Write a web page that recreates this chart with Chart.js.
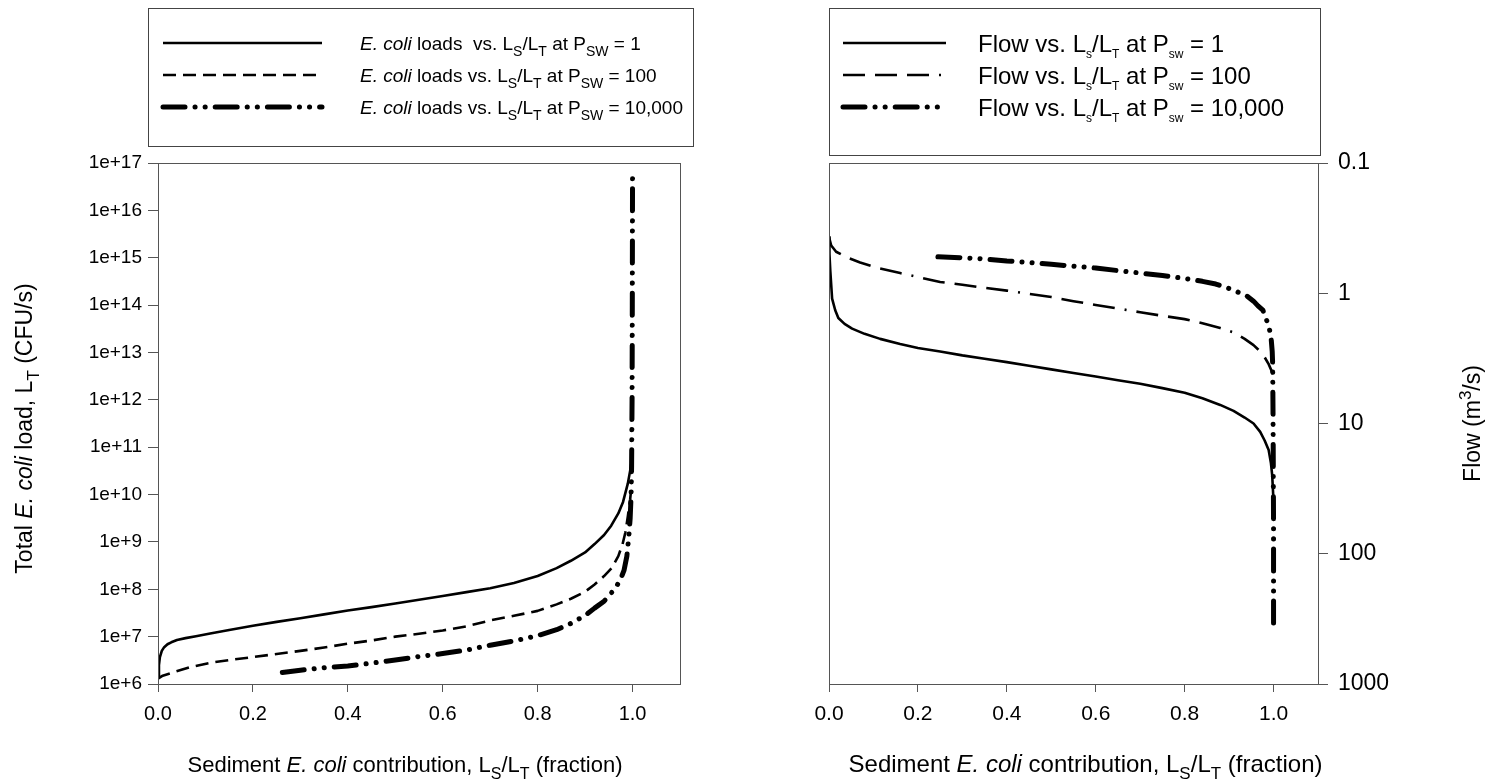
<!DOCTYPE html>
<html>
<head>
<meta charset="utf-8">
<script src="https://cdn.jsdelivr.net/npm/chart.js@4/dist/chart.umd.min.js"></script>
<style>
  html, body { margin: 0; padding: 0; background: #fff; }
  #wrap { position: relative; width: 1488px; height: 783px; }
  .pane { position: absolute; top: 0; width: 744px; height: 783px; }
</style>
</head>
<body>
<div id="wrap">
  <div class="pane" style="left:0"><canvas id="loadChart" width="744" height="783"></canvas></div>
  <div class="pane" style="left:744px"><canvas id="flowChart" width="744" height="783"></canvas></div>
</div>
<script>
// sediment fraction Ls/Lt vs total load (CFU/s), one curve per Psw
let loadFrac1 = [0, 0.002, 0.004, 0.008, 0.013, 0.02, 0.028, 0.04, 0.058, 0.08, 0.11, 0.15, 0.2, 0.25, 0.3, 0.35, 0.4, 0.45, 0.5, 0.55, 0.6, 0.65, 0.7, 0.75, 0.8, 0.84, 0.87, 0.9, 0.92, 0.94, 0.955, 0.97, 0.98, 0.99, 0.995, 0.998];
let loadVal1 = [1.4e6, 2.5e6, 3.7e6, 5e6, 6e6, 6.9e6, 7.6e6, 8.5e6, 9.3e6, 1.02e7, 1.17e7, 1.38e7, 1.7e7, 2.05e7, 2.45e7, 2.95e7, 3.55e7, 4.2e7, 5e7, 6e7, 7.2e7, 8.7e7, 1.05e8, 1.35e8, 1.9e8, 2.8e8, 4e8, 6e8, 9e8, 1.4e9, 2.2e9, 4e9, 7e9, 1.7e10, 3.2e10, 5e10];

let loadFrac100 = [0, 0.01, 0.035, 0.07, 0.11, 0.15, 0.2, 0.25, 0.3, 0.35, 0.4, 0.45, 0.5, 0.55, 0.6, 0.65, 0.7, 0.75, 0.8, 0.84, 0.87, 0.9, 0.92, 0.94, 0.956, 0.97, 0.979, 0.985, 0.99, 0.995, 0.998];
let loadVal100 = [1.3e6, 1.5e6, 1.8e6, 2.3e6, 2.8e6, 3.2e6, 3.7e6, 4.3e6, 5e6, 5.9e6, 7.1e6, 8.3e6, 1e7, 1.15e7, 1.35e7, 1.65e7, 2.2e7, 2.75e7, 3.5e7, 4.8e7, 6.3e7, 8.9e7, 1.26e8, 1.9e8, 2.8e8, 5e8, 9e8, 1.6e9, 3.4e9, 8e9, 1.6e10];

let loadFrac10k = [0.262, 0.3, 0.337, 0.4, 0.45, 0.5, 0.55, 0.6, 0.65, 0.7, 0.75, 0.8, 0.84, 0.87, 0.9, 0.92, 0.94, 0.955, 0.965, 0.975, 0.982, 0.988, 0.992, 0.995, 0.997, 0.998, 0.999, 0.9995, 1.0];
let loadVal10k = [1.75e6, 1.95e6, 2.15e6, 2.4e6, 2.75e6, 3.2e6, 3.8e6, 4.4e6, 5.2e6, 6.6e6, 8.1e6, 1.05e7, 1.4e7, 1.9e7, 2.8e7, 4e7, 5.6e7, 8.3e7, 1.1e8, 1.65e8, 2.5e8, 5e8, 1.25e9, 3.2e9, 1e10, 4e10, 1e12, 1e14, 7e16];

// sediment fraction vs flow (m3/s)
let flowFrac1 = [0, 0.001, 0.003, 0.007, 0.014, 0.021, 0.035, 0.052, 0.08, 0.115, 0.16, 0.2, 0.25, 0.3, 0.35, 0.4, 0.45, 0.5, 0.55, 0.6, 0.65, 0.7, 0.75, 0.8, 0.84, 0.88, 0.91, 0.935, 0.955, 0.97, 0.98, 0.989, 0.994, 0.997, 1.0];
let flowVal1 = [0.37, 0.5, 0.68, 1.1, 1.35, 1.55, 1.72, 1.87, 2.05, 2.24, 2.45, 2.63, 2.8, 3.0, 3.18, 3.38, 3.6, 3.84, 4.1, 4.36, 4.65, 4.95, 5.35, 5.8, 6.4, 7.2, 8.0, 9.0, 10, 11.6, 13.5, 16, 20, 25, 40];

let flowFrac100 = [0, 0.005, 0.016, 0.04, 0.07, 0.11, 0.16, 0.2, 0.25, 0.3, 0.34, 0.4, 0.45, 0.5, 0.55, 0.6, 0.65, 0.7, 0.75, 0.8, 0.84, 0.88, 0.91, 0.935, 0.955, 0.97, 0.98, 0.989, 0.995, 0.998];
let flowVal100 = [0.37, 0.43, 0.48, 0.53, 0.58, 0.64, 0.70, 0.75, 0.82, 0.86, 0.90, 0.955, 1.01, 1.07, 1.15, 1.23, 1.31, 1.40, 1.49, 1.58, 1.7, 1.85, 2.0, 2.24, 2.5, 2.8, 3.1, 3.5, 3.9, 4.2];

let flowFrac10k = [0.245, 0.3, 0.35, 0.4, 0.45, 0.5, 0.55, 0.6, 0.65, 0.7, 0.75, 0.8, 0.84, 0.87, 0.9, 0.92, 0.94, 0.955, 0.965, 0.976, 0.985, 0.99, 0.994, 0.997, 0.998, 0.999, 1.0, 1.0];
let flowVal10k = [0.525, 0.535, 0.545, 0.565, 0.58, 0.60, 0.62, 0.64, 0.67, 0.70, 0.73, 0.77, 0.81, 0.85, 0.92, 0.98, 1.05, 1.15, 1.25, 1.35, 1.63, 1.85, 2.1, 2.8, 3.5, 10, 60, 400];

let pswLabels = ["1", "100", "10,000"];
let fracTicks = [0, 0.2, 0.4, 0.6, 0.8, 1.0];
let loadTicks = [1e6, 1e7, 1e8, 1e9, 1e10, 1e11, 1e12, 1e13, 1e14, 1e15, 1e16, 1e17];
let flowTicks = [0.1, 1, 10, 100, 1000];

const FAMILY = '"Liberation Sans", Arial, sans-serif';
const AXIS = "#555";

// line styles: solid, dashed, dash-dot-dot
const dashDotDot = [22, 10, 0.1, 10, 0.1, 10];
let loadStyles = [
  { dash: [], width: 2.6, cap: "butt" },
  { dash: [13, 7], width: 2.6, cap: "butt" },
  { dash: dashDotDot, width: 5, cap: "round" }
];
let flowStyles = [
  { dash: [], width: 2.6, cap: "butt" },
  { dash: [22, 10, 22, 10, 22, 10, 2, 10], width: 2.6, cap: "butt" },
  { dash: dashDotDot, width: 5, cap: "round" }
];

function makeSet(xs, ys, st) {
  return {
    data: xs.map((x, i) => ({ x: x, y: ys[i] })),
    showLine: true,
    pointRadius: 0,
    borderColor: "#000",
    borderWidth: st.width,
    borderDash: st.dash,
    borderCapStyle: st.cap,
    borderJoinStyle: "round",
    tension: 0
  };
}

// mixed text runs: [text, kind] with kind n / i / sub / tiny / sup
function runFont(kind, size) {
  if (kind === "i") return { font: "italic " + size + "px " + FAMILY, dy: 0 };
  if (kind === "sub") return { font: Math.round(size * 0.72) + "px " + FAMILY, dy: size * 0.3 };
  if (kind === "tiny") return { font: Math.round(size * 0.5) + "px " + FAMILY, dy: size * 0.25 };
  if (kind === "sup") return { font: Math.round(size * 0.72) + "px " + FAMILY, dy: -size * 0.42 };
  return { font: size + "px " + FAMILY, dy: 0 };
}
function richWidth(ctx, runs, size) {
  let w = 0;
  runs.forEach(r => { ctx.font = runFont(r[1], size).font; w += ctx.measureText(r[0]).width; });
  return w;
}
function drawRich(ctx, runs, x, y, size, align) {
  let start = x;
  if (align === "center") start = x - richWidth(ctx, runs, size) / 2;
  ctx.fillStyle = "#000";
  ctx.textAlign = "left";
  ctx.textBaseline = "alphabetic";
  runs.forEach(r => {
    let f = runFont(r[1], size);
    ctx.font = f.font;
    ctx.fillText(r[0], start, y + f.dy);
    start += ctx.measureText(r[0]).width;
  });
}

function sampleLine(ctx, x0, x1, y, st) {
  ctx.save();
  ctx.strokeStyle = "#000";
  ctx.lineWidth = st.width;
  ctx.lineCap = st.cap;
  ctx.setLineDash(st.dash);
  ctx.beginPath();
  ctx.moveTo(x0, y);
  ctx.lineTo(x1, y);
  ctx.stroke();
  ctx.restore();
}

// frame, legend box and axis titles
const decor = {
  id: "decor",
  afterDraw(chart, args, o) {
    const ctx = chart.ctx;
    const a = chart.chartArea;
    ctx.save();
    ctx.strokeStyle = AXIS;
    ctx.lineWidth = 1;
    ctx.strokeRect(Math.round(a.left) + 0.5, Math.round(a.top) + 0.5, Math.round(a.right - a.left), Math.round(a.bottom - a.top));

    const lg = o.legend;
    ctx.strokeStyle = "#444";
    ctx.strokeRect(lg.box[0] + 0.5, lg.box[1] + 0.5, lg.box[2], lg.box[3]);
    lg.rows.forEach((ry, i) => {
      sampleLine(ctx, lg.sample[0], lg.sample[1], ry, o.styles[i]);
      drawRich(ctx, o.labels[i], lg.textX, ry + lg.size * 0.36, lg.size);
    });

    const cx = (a.left + a.right) / 2 + o.xTitleShift;
    drawRich(ctx, o.xTitle, cx, 772, o.xTitleSize, "center");

    ctx.save();
    ctx.translate(o.yTitleX, (a.top + a.bottom) / 2 + o.yTitleShift);
    ctx.rotate(-Math.PI / 2);
    drawRich(ctx, o.yTitle, 0, o.yTitleSize * 0.36, o.yTitleSize, "center");
    ctx.restore();
    ctx.restore();
  }
};

function xAxis(size) {
  return {
    type: "linear", min: 0, max: 1.1,
    afterBuildTicks: s => { s.ticks = fracTicks.map(v => ({ value: v })); },
    afterFit: s => { s.height = 99; },
    ticks: { callback: v => v.toFixed(1), padding: 10, color: "#000", font: { family: FAMILY, size: size }, maxRotation: 0, autoSkip: false },
    grid: { drawOnChartArea: false, tickLength: 8, color: AXIS },
    border: { color: AXIS }
  };
}

const xTitleRuns = [["Sediment ", "n"], ["E. coli", "i"], [" contribution, L", "n"], ["S", "sub"], ["/L", "n"], ["T", "sub"], [" (fraction)", "n"]];

new Chart(document.getElementById("loadChart"), {
  type: "scatter",
  data: {
    datasets: [
      makeSet(loadFrac1, loadVal1, loadStyles[0]),
      makeSet(loadFrac100, loadVal100, loadStyles[1]),
      makeSet(loadFrac10k, loadVal10k, loadStyles[2])
    ]
  },
  options: {
    responsive: false, animation: false, events: [],
    layout: { padding: { top: 163, right: 64, left: 0, bottom: 0 } },
    scales: {
      x: xAxis(20),
      y: {
        type: "logarithmic", min: 1e6, max: 1e17,
        afterBuildTicks: s => { s.ticks = loadTicks.map(v => ({ value: v })); },
        afterFit: s => { s.width = 158; },
        ticks: { callback: v => "1e+" + Math.round(Math.log10(v)), padding: 6, color: "#000", font: { family: FAMILY, size: 19 }, autoSkip: false },
        grid: { drawOnChartArea: false, tickLength: 10, color: AXIS },
        border: { color: AXIS }
      }
    },
    plugins: {
      legend: { display: false },
      tooltip: { enabled: false },
      decor: {
        legend: { box: [148, 8, 545, 138], sample: [163, 322], textX: 360, rows: [43, 75, 107], size: 19 },
        styles: loadStyles,
        labels: pswLabels.map((p, i) => [["E. coli", "i"], [i === 0 ? " loads  vs. L" : " loads vs. L", "n"], ["S", "sub"], ["/L", "n"], ["T", "sub"], [" at P", "n"], ["SW", "sub"], [" = " + p, "n"]]),
        xTitle: xTitleRuns,
        xTitleShift: -14,
        xTitleSize: 22,
        yTitle: [["Total ", "n"], ["E. coli", "i"], [" load, L", "n"], ["T", "sub"], [" (CFU/s)", "n"]],
        yTitleSize: 23,
        yTitleX: 24,
        yTitleShift: 5
      }
    }
  },
  plugins: [decor]
});

new Chart(document.getElementById("flowChart"), {
  type: "scatter",
  data: {
    datasets: [
      makeSet(flowFrac1, flowVal1, flowStyles[0]),
      makeSet(flowFrac100, flowVal100, flowStyles[1]),
      makeSet(flowFrac10k, flowVal10k, flowStyles[2])
    ]
  },
  options: {
    responsive: false, animation: false, events: [],
    layout: { padding: { top: 163, right: 0, left: 85, bottom: 0 } },
    scales: {
      x: xAxis(21),
      y: {
        type: "logarithmic", position: "right", reverse: true, min: 0.1, max: 1000,
        afterBuildTicks: s => { s.ticks = flowTicks.map(v => ({ value: v })); },
        afterFit: s => { s.width = 170; },
        ticks: { callback: v => String(v), padding: 10, color: "#000", font: { family: FAMILY, size: 23 }, autoSkip: false },
        grid: { drawOnChartArea: false, tickLength: 10, color: AXIS },
        border: { color: AXIS }
      }
    },
    plugins: {
      legend: { display: false },
      tooltip: { enabled: false },
      decor: {
        legend: { box: [85, 8, 491, 147], sample: [99, 202], textX: 234, rows: [43, 75, 107], size: 24 },
        styles: flowStyles,
        labels: pswLabels.map(p => [["Flow vs. L", "n"], ["s", "tiny"], ["/L", "n"], ["T", "tiny"], [" at P", "n"], ["sw", "tiny"], [" = " + p, "n"]]),
        xTitle: xTitleRuns,
        xTitleShift: 12,
        xTitleSize: 24,
        yTitle: [["Flow (m", "n"], ["3", "sup"], ["/s)", "n"]],
        yTitleSize: 23,
        yTitleX: 728,
        yTitleShift: 0
      }
    }
  },
  plugins: [decor]
});
</script>
</body>
</html>
